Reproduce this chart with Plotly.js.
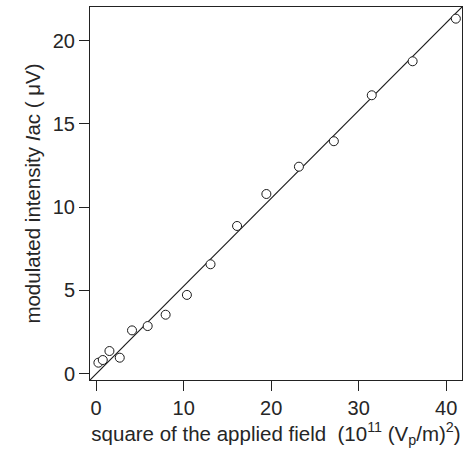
<!DOCTYPE html>
<html>
<head>
<meta charset="utf-8">
<script src="https://cdn.plot.ly/plotly-3.0.1.min.js"></script>
<style>html,body{margin:0;padding:0;background:#fff;}#chart{width:466px;height:449px;}</style>
</head>
<body>
<div id="chart"></div>
<script>
// Measured data: square of applied field (10^11 (Vp/m)^2) vs modulated intensity (µV)
const fieldSq = [0.26, 0.76, 1.52, 2.70, 4.10, 5.89, 7.94, 10.37, 13.07, 16.10, 19.45, 23.17, 27.16, 31.49, 36.16, 41.10];
const intensity = [0.66, 0.82, 1.36, 0.96, 2.60, 2.86, 3.54, 4.73, 6.57, 8.87, 10.79, 12.43, 13.96, 16.72, 18.76, 21.32];
// Linear fit parameters
const fitSlope = 0.527;
const fitIntercept = -0.01;
const xRange = [-0.7, 41.8];
const yRange = [-0.38, 22.02];
const xTicks = [0, 10, 20, 30, 40];
const yTicks = [0, 5, 10, 15, 20];

const fitX = xRange.slice();
const fitY = fitX.map(x => fitSlope * x + fitIntercept);

const fontFam = 'Liberation Sans, Arial, sans-serif';
const txt = '#262626';
const traces = [
  {x: fitX, y: fitY, mode: 'lines', type: 'scatter', line: {color: '#1a1a1a', width: 1.2}, hoverinfo: 'skip', cliponaxis: true},
  {x: fieldSq, y: intensity, mode: 'markers', type: 'scatter',
   marker: {symbol: 'circle', size: 9, color: '#ffffff', line: {color: '#1a1a1a', width: 1}}, cliponaxis: false}
];
const layout = {
  width: 466, height: 449,
  margin: {l: 90, r: 4, t: 7, b: 69},
  paper_bgcolor: '#ffffff', plot_bgcolor: '#ffffff',
  showlegend: false,
  font: {family: fontFam, color: txt, size: 20},
  xaxis: {
    range: xRange, tickvals: xTicks, ticks: 'outside', ticklen: 10, tickwidth: 1, tickcolor: '#222',
    showline: true, linecolor: '#222', linewidth: 1, mirror: true, showgrid: false, zeroline: false,
    tickfont: {size: 20, family: fontFam, color: txt},
    title: {text: 'square of the applied field&nbsp;&nbsp;(10<sup>11</sup> (V<sub>p</sub>/m)<sup>2</sup>)', font: {size: 20.5, family: fontFam, color: txt}, standoff: 2},
    automargin: false
  },
  yaxis: {
    range: yRange, tickvals: yTicks, ticks: 'outside', ticklen: 10, tickwidth: 1, tickcolor: '#222',
    showline: true, linecolor: '#222', linewidth: 1, mirror: true, showgrid: false, zeroline: false,
    tickfont: {size: 20, family: fontFam, color: txt},
    title: {text: 'modulated intensity <i>I</i>ac ( μV)', font: {size: 20.5, family: fontFam, color: txt}, standoff: 6},
    automargin: false
  }
};
Plotly.newPlot('chart', traces, layout, {displayModeBar: false, staticPlot: true});
</script>
</body>
</html>
